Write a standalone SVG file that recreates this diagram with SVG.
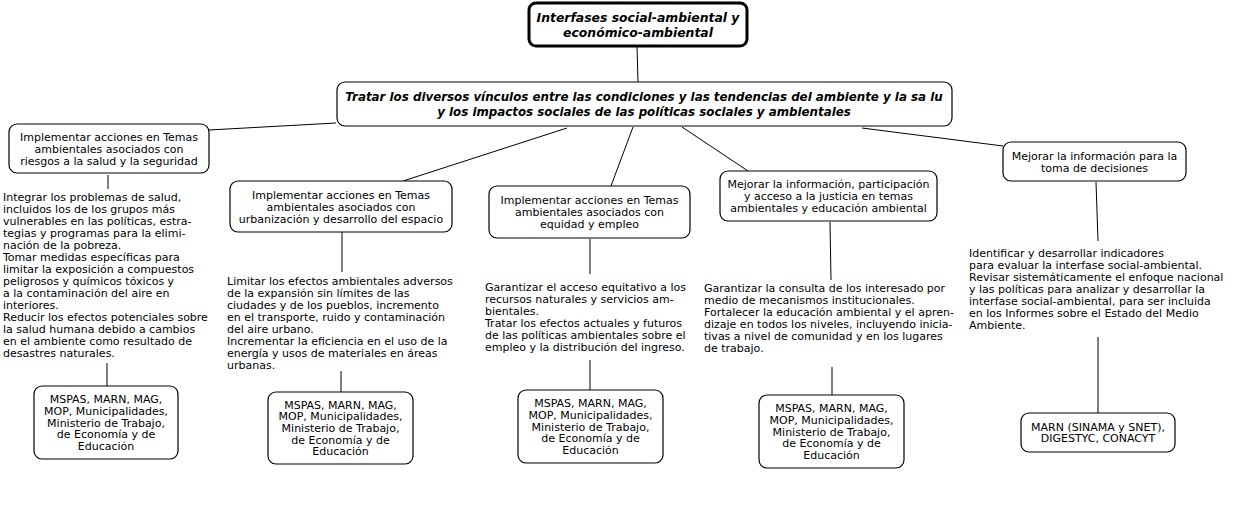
<svg xmlns="http://www.w3.org/2000/svg" width="1234" height="515" viewBox="0 0 1234 515">
<style>
.bg{fill:#ffffff}
.box{fill:#ffffff;stroke:#000000;stroke-width:1.2}
.top{fill:#ffffff;stroke:#000000;stroke-width:3}
.t{font-family:"DejaVu Sans",Verdana,sans-serif;font-size:11px;fill:#000000}
.c{text-anchor:middle}
.bi{font-family:"DejaVu Sans",Verdana,sans-serif;font-weight:bold;font-style:italic;fill:#000000;text-anchor:middle}
.ln{stroke:#000000;stroke-width:1;fill:none}
</style>
<rect class="bg" x="0" y="0" width="1234" height="515"/>
<g id="connectors">
<line class="ln" x1="637" y1="46" x2="638" y2="82"/>
<line class="ln" x1="336" y1="123" x2="209" y2="130"/>
<line class="ln" x1="567" y1="128" x2="403" y2="181"/>
<line class="ln" x1="633" y1="127" x2="611" y2="186"/>
<line class="ln" x1="682" y1="127" x2="748" y2="171"/>
<line class="ln" x1="862" y1="128" x2="1003" y2="146"/>
<line class="ln" x1="108" y1="175" x2="108" y2="189"/>
<line class="ln" x1="107" y1="363" x2="107" y2="386"/>
<line class="ln" x1="342" y1="232" x2="342" y2="272"/>
<line class="ln" x1="341" y1="371" x2="341" y2="392"/>
<line class="ln" x1="590" y1="239" x2="590" y2="274"/>
<line class="ln" x1="590" y1="360" x2="590" y2="390"/>
<line class="ln" x1="830" y1="222" x2="831" y2="280"/>
<line class="ln" x1="832" y1="367" x2="832" y2="395"/>
<line class="ln" x1="1096" y1="182" x2="1098" y2="241"/>
<line class="ln" x1="1098" y1="337" x2="1098" y2="413"/>
</g>
<g id="root">
<rect class="top" x="529" y="3" width="218" height="43" rx="7"/>
<text class="bi" font-size="12.4" x="638" y="21.5">Interfases social-ambiental y</text>
<text class="bi" font-size="12.4" x="638" y="36.5">económico-ambiental</text>
</g>
<g id="main">
<rect class="box" x="337" y="82" width="615" height="44" rx="8"/>
<text class="bi" font-size="11.85" x="644" y="100.5">Tratar los diversos vínculos entre las condiciones y las tendencias del ambiente y la sa lu</text>
<text class="bi" font-size="11.85" x="644" y="115.5">y los impactos sociales de las políticas sociales y ambientales</text>
</g>
<g id="n1">
<rect class="box" x="9" y="124" width="200" height="49" rx="8"/>
<text class="t c" x="109" y="140.5">Implementar acciones en Temas</text>
<text class="t c" x="109" y="152.5">ambientales asociados con</text>
<text class="t c" x="109" y="164.5">riesgos a la salud y la seguridad</text>
</g>
<g id="n1text">
<text class="t" x="3" y="201">Integrar los problemas de salud,</text>
<text class="t" x="3" y="213">incluidos los de los grupos más</text>
<text class="t" x="3" y="225">vulnerables en las políticas, estra-</text>
<text class="t" x="3" y="237">tegias y programas para la elimi-</text>
<text class="t" x="3" y="249">nación de la pobreza.</text>
<text class="t" x="3" y="261">Tomar medidas específicas para</text>
<text class="t" x="3" y="273">limitar la exposición a compuestos</text>
<text class="t" x="3" y="285">peligrosos y químicos tóxicos y</text>
<text class="t" x="3" y="297">a la contaminación del aire en</text>
<text class="t" x="3" y="309">interiores.</text>
<text class="t" x="3" y="321">Reducir los efectos potenciales sobre</text>
<text class="t" x="3" y="333">la salud humana debido a cambios</text>
<text class="t" x="3" y="345">en el ambiente como resultado de</text>
<text class="t" x="3" y="357">desastres naturales.</text>
</g>
<g id="n1box">
<rect class="box" x="34" y="386" width="144" height="73" rx="8"/>
<text class="t c" x="106" y="403.1">MSPAS, MARN, MAG,</text>
<text class="t c" x="106" y="414.8">MOP, Municipalidades,</text>
<text class="t c" x="106" y="426.5">Ministerio de Trabajo,</text>
<text class="t c" x="106" y="438.2"> de Economía y de</text>
<text class="t c" x="106" y="449.9">Educación</text>
</g>
<g id="n2">
<rect class="box" x="230" y="181" width="222" height="51" rx="8"/>
<text class="t c" x="341" y="198.5">Implementar acciones en Temas</text>
<text class="t c" x="341" y="210.5">ambientales asociados con</text>
<text class="t c" x="341" y="222.5">urbanización y desarrollo del espacio</text>
</g>
<g id="n2text">
<text class="t" x="227" y="285">Limitar los efectos ambientales adversos</text>
<text class="t" x="227" y="297">de la expansión sin límites de las</text>
<text class="t" x="227" y="309">ciudades y de los pueblos, incremento</text>
<text class="t" x="227" y="321">en el transporte, ruido y contaminación</text>
<text class="t" x="227" y="333">del aire urbano.</text>
<text class="t" x="227" y="345">Incrementar la eficiencia en el uso de la</text>
<text class="t" x="227" y="357">energía y usos de materiales en áreas</text>
<text class="t" x="227" y="369">urbanas.</text>
</g>
<g id="n2box">
<rect class="box" x="268" y="392" width="145" height="72" rx="8"/>
<text class="t c" x="340.5" y="408.6">MSPAS, MARN, MAG,</text>
<text class="t c" x="340.5" y="420.3">MOP, Municipalidades,</text>
<text class="t c" x="340.5" y="432">Ministerio de Trabajo,</text>
<text class="t c" x="340.5" y="443.7"> de Economía y de</text>
<text class="t c" x="340.5" y="455.4">Educación</text>
</g>
<g id="n3">
<rect class="box" x="489" y="186" width="201" height="52" rx="8"/>
<text class="t c" x="589.5" y="204">Implementar acciones en Temas</text>
<text class="t c" x="589.5" y="216">ambientales asociados con</text>
<text class="t c" x="589.5" y="228">equidad y empleo</text>
</g>
<g id="n3text">
<text class="t" x="485" y="291">Garantizar el acceso equitativo a los</text>
<text class="t" x="485" y="303">recursos naturales y servicios am-</text>
<text class="t" x="485" y="315">bientales.</text>
<text class="t" x="485" y="327">Tratar los efectos actuales y futuros</text>
<text class="t" x="485" y="339">de las políticas ambientales sobre el</text>
<text class="t" x="485" y="351">empleo y la distribución del ingreso.</text>
</g>
<g id="n3box">
<rect class="box" x="518" y="390" width="145" height="73" rx="8"/>
<text class="t c" x="590.5" y="407.1">MSPAS, MARN, MAG,</text>
<text class="t c" x="590.5" y="418.8">MOP, Municipalidades,</text>
<text class="t c" x="590.5" y="430.5">Ministerio de Trabajo,</text>
<text class="t c" x="590.5" y="442.2"> de Economía y de</text>
<text class="t c" x="590.5" y="453.9">Educación</text>
</g>
<g id="n4">
<rect class="box" x="720" y="171" width="217" height="50" rx="8"/>
<text class="t c" x="828.5" y="188">Mejorar la información, participación</text>
<text class="t c" x="828.5" y="200">y acceso a la justicia en temas</text>
<text class="t c" x="828.5" y="212">ambientales y educación ambiental</text>
</g>
<g id="n4text">
<text class="t" x="704" y="292">Garantizar la consulta de los interesado por</text>
<text class="t" x="704" y="304">medio de mecanismos institucionales.</text>
<text class="t" x="704" y="316">Fortalecer la educación ambiental y el apren-</text>
<text class="t" x="704" y="328">dizaje en todos los niveles, incluyendo inicia-</text>
<text class="t" x="704" y="340">tivas a nivel de comunidad y en los lugares</text>
<text class="t" x="704" y="352">de trabajo.</text>
</g>
<g id="n4box">
<rect class="box" x="759" y="395" width="145" height="73" rx="8"/>
<text class="t c" x="831.5" y="412.1">MSPAS, MARN, MAG,</text>
<text class="t c" x="831.5" y="423.8">MOP, Municipalidades,</text>
<text class="t c" x="831.5" y="435.5">Ministerio de Trabajo,</text>
<text class="t c" x="831.5" y="447.2"> de Economía y de</text>
<text class="t c" x="831.5" y="458.9">Educación</text>
</g>
<g id="n5">
<rect class="box" x="1003" y="142" width="183" height="39" rx="8"/>
<text class="t c" x="1094.5" y="159.5">Mejorar la información para la</text>
<text class="t c" x="1094.5" y="171.5">toma de decisiones</text>
</g>
<g id="n5text">
<text class="t" x="969" y="257">Identificar y desarrollar indicadores</text>
<text class="t" x="969" y="269">para evaluar la interfase social-ambiental.</text>
<text class="t" x="969" y="281">Revisar sistemáticamente el enfoque nacional</text>
<text class="t" x="969" y="293">y las políticas para analizar y desarrollar la</text>
<text class="t" x="969" y="305">interfase social-ambiental, para ser incluida</text>
<text class="t" x="969" y="317">en los Informes sobre el Estado del Medio</text>
<text class="t" x="969" y="329">Ambiente.</text>
</g>
<g id="n5box">
<rect class="box" x="1021" y="413" width="154" height="39" rx="8"/>
<text class="t c" x="1098" y="430.7">MARN (SINAMA y SNET),</text>
<text class="t c" x="1098" y="442.4">DIGESTYC, CONACYT</text>
</g>
</svg>
